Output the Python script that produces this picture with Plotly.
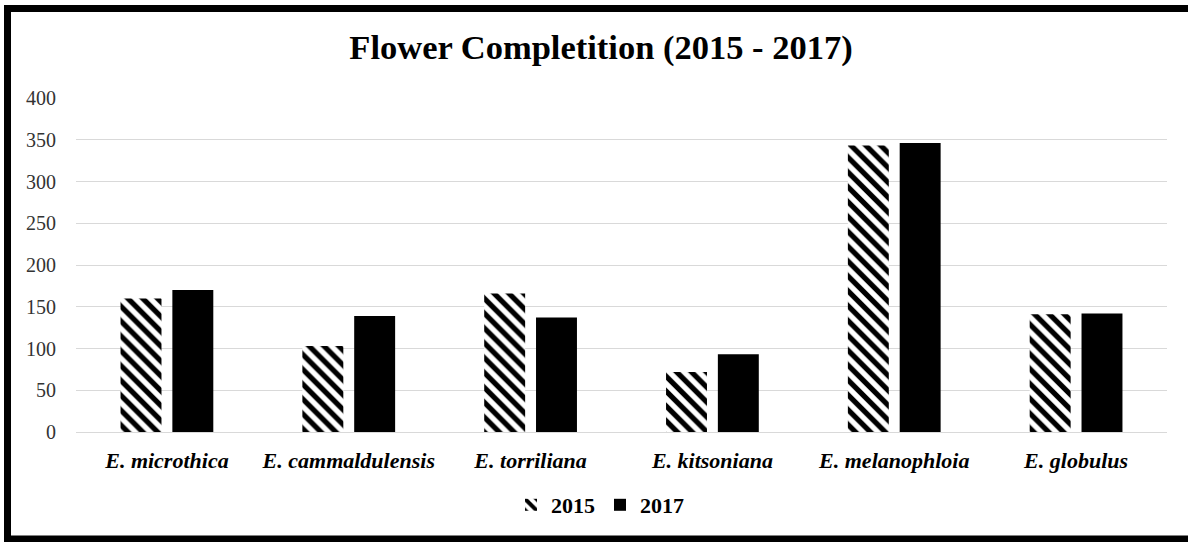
import plotly.graph_objects as go

categories = ["E. microthica", "E. cammaldulensis", "E. torriliana",
              "E. kitsoniana", "E. melanophloia", "E. globulus"]
values_2015 = [160, 103, 166, 72, 343, 141]
values_2017 = [170, 139, 137, 93, 346, 142]
y_ticks = [0, 50, 100, 150, 200, 250, 300, 350, 400]

SERIF = "Liberation Serif, Times New Roman, serif"

fig = go.Figure()
fig.add_trace(go.Bar(
    name="2015", x=categories, y=values_2015,
    marker=dict(color="white",
                pattern=dict(shape="\\", fgcolor="black", bgcolor="white",
                             fgopacity=1, size=10.5, solidity=0.5, fillmode="overlay"),
                line=dict(width=0)),
))
fig.add_trace(go.Bar(
    name="2017", x=categories, y=values_2017,
    marker=dict(color="black", line=dict(width=0)),
))

L, R, T, B = 76, 21, 98, 110
W, H = 1188, 542
pw, ph = W - L - R, H - T - B

def px_x(px):
    return (px - L) / pw

def px_y(py):
    return (H - B - py) / ph

border = dict(color="black", width=7)
fig.update_layout(
    width=W, height=H,
    margin=dict(l=L, r=R, t=T, b=B),
    paper_bgcolor="white", plot_bgcolor="white",
    barmode="group", bargap=0.43, bargroupgap=0.21,
    title=dict(text="<b>Flower Completition (2015 - 2017)</b>",
               font=dict(family=SERIF, size=34.5, color="black"),
               x=601 / W, xref="container", xanchor="center",
               y=1 - 47 / H, yref="container", yanchor="middle"),
    xaxis=dict(tickfont=dict(family=SERIF, size=22, color="black", weight="bold", style="italic"),
               showgrid=False, showline=False, ticks="", ticklabelstandoff=13),
    yaxis=dict(range=[0, 400], tickvals=y_ticks,
               tickfont=dict(family=SERIF, size=20, color="#333333"),
               showgrid=True, gridcolor="#d9d9d9", gridwidth=1,
               zeroline=True, zerolinecolor="#d9d9d9", zerolinewidth=1,
               showline=False, ticks="", ticklabelstandoff=19),
    legend=dict(orientation="h", x=px_x(600), xanchor="center",
                y=px_y(505), yanchor="middle",
                font=dict(family=SERIF, size=22, color="black", weight="bold"),
                itemwidth=30, tracegroupgap=0),
    showlegend=True,
    shapes=[
        dict(type="line", xref="paper", yref="paper",
             x0=px_x(7.5), x1=px_x(1200), y0=px_y(8.5), y1=px_y(8.5),
             line=border, layer="above"),
        dict(type="line", xref="paper", yref="paper",
             x0=px_x(7.5), x1=px_x(1200), y0=px_y(539), y1=px_y(539),
             line=border, layer="above"),
        dict(type="line", xref="paper", yref="paper",
             x0=px_x(7.5), x1=px_x(7.5), y0=px_y(5), y1=px_y(542.5),
             line=border, layer="above"),
    ],
)

fig.write_html("out.html")
